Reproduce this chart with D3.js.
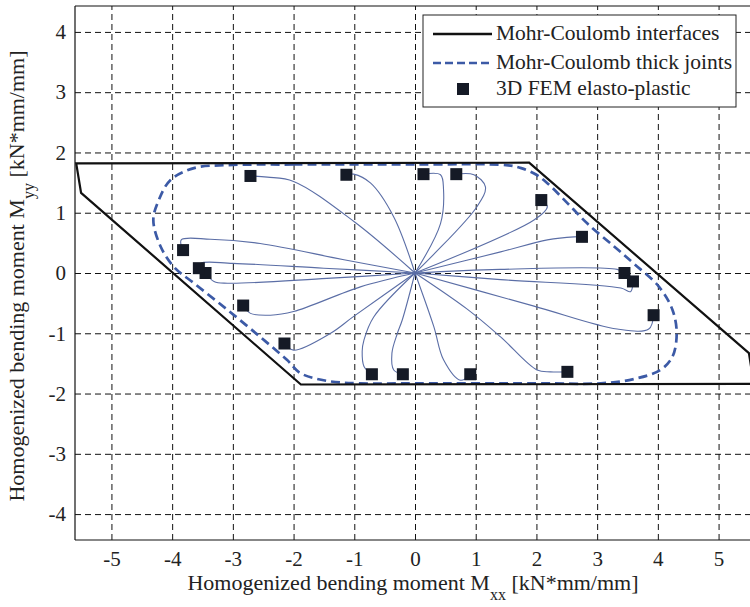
<!DOCTYPE html>
<html>
<head>
<meta charset="utf-8">
<script src="https://cdn.jsdelivr.net/npm/d3@7"></script>
<style>
  html, body { margin: 0; padding: 0; background: #fff; }
  svg { display: block; }
</style>
</head>
<body>
<svg id="chart" width="750" height="607" font-family="'Liberation Serif', 'DejaVu Serif', serif"></svg>
<script>
// Axis ticks
const xTicks = [-5, -4, -3, -2, -1, 0, 1, 2, 3, 4, 5];
const yTicks = [-4, -3, -2, -1, 0, 1, 2, 3, 4];

// Mohr-Coulomb interfaces: closed failure polygon (Mxx, Myy)
const interfaceX = [-5.58, 1.88, 5.50, 5.58, -1.88, -5.50];
const interfaceY = [ 1.82, 1.83, -1.33, -1.84, -1.85, 1.33];

// Mohr-Coulomb thick joints: closed rounded failure surface
const jointX = [-3.10, -2.00, 0.00, 1.50, 1.75, 2.00, 2.18, 2.51, 2.84, 3.28, 3.60, 4.02, 4.24, 4.31, 4.24, 4.04, 3.60, 3.06, 2.00, 0.00, -0.90, -1.45, -1.89, -2.11, -2.55, -3.09, -3.64, -3.97, -4.19, -4.31, -4.22, -4.03, -3.64];
const jointY = [ 1.79,  1.80, 1.80, 1.79, 1.74, 1.63, 1.49, 1.16, 0.82, 0.44, 0.16, -0.23, -0.61, -1.00, -1.39, -1.61, -1.76, -1.83, -1.83, -1.83, -1.83, -1.79, -1.66, -1.44, -1.06, -0.61, -0.17, 0.10, 0.44, 0.88, 1.21, 1.54, 1.74];

// 3D FEM elasto-plastic: collapse points
const femX = [-2.71, -1.13, 0.14, 0.68, 2.08, 2.75, 3.45, 3.59, 3.93, 2.51, 0.91, -0.20, -0.71, -2.15, -2.83, -3.45, -3.56, -3.82];
const femY = [ 1.61,  1.63, 1.64, 1.64, 1.21, 0.60, 0.00, -0.14, -0.70, -1.64, -1.68, -1.68, -1.68, -1.17, -0.54, 0.00, 0.08, 0.38];

// FEM load paths from the origin to each collapse point
const loadPaths = [
  [[0,0],[-1.0,0.85],[-2.0,1.52],[-2.43,1.59],[-2.71,1.61]],
  [[0,0],[-0.35,0.93],[-0.73,1.49],[-1.01,1.64],[-1.13,1.63]],
  [[0,0],[0.42,0.82],[0.47,1.38],[0.42,1.63],[0.14,1.64]],
  [[0,0],[1.02,1.10],[1.16,1.43],[0.97,1.63],[0.68,1.64]],
  [[0,0],[1.96,0.88],[2.18,1.10],[2.08,1.21]],
  [[0,0],[1.41,0.35],[2.18,0.55],[2.62,0.60],[2.75,0.60]],
  [[0,0],[1.40,0.06],[3.33,0.06],[3.45,0.00]],
  [[0,0],[1.41,-0.11],[3.39,-0.25],[3.55,-0.31],[3.59,-0.14]],
  [[0,0],[1.96,-0.55],[3.33,-0.93],[3.85,-0.93],[3.93,-0.70]],
  [[0,0],[0.86,-0.60],[1.41,-1.06],[2.01,-1.61],[2.23,-1.64],[2.51,-1.64]],
  [[0,0],[0.31,-0.89],[0.47,-1.44],[0.75,-1.78],[0.91,-1.68]],
  [[0,0],[-0.21,-0.78],[-0.29,-1.00],[-0.38,-1.33],[-0.35,-1.61],[-0.20,-1.68]],
  [[0,0],[-0.68,-0.73],[-0.84,-1.11],[-0.87,-1.30],[-0.84,-1.55],[-0.71,-1.68]],
  [[0,0],[-1.01,-0.72],[-1.39,-1.00],[-2.00,-1.28],[-2.15,-1.17]],
  [[0,0],[-0.90,-0.23],[-2.00,-0.64],[-2.38,-0.70],[-2.71,-0.67],[-2.83,-0.54]],
  [[0,0],[-1.45,-0.09],[-3.09,-0.17],[-3.31,-0.14],[-3.45,0.00]],
  [[0,0],[-1.50,0.08],[-3.00,0.16],[-3.53,0.16],[-3.56,0.08]],
  [[0,0],[-1.17,0.22],[-2.55,0.49],[-3.37,0.56],[-3.85,0.55],[-3.82,0.38]]
];

const legendItems = ["Mohr-Coulomb interfaces", "Mohr-Coulomb thick joints", "3D FEM elasto-plastic"];

const FONT = "'Liberation Serif', 'DejaVu Serif', serif";
const svg = d3.select("#chart");
const pLeft = 75, pRight = 755, pTop = 6, pBottom = 540;

const x = d3.scaleLinear().domain([-5.6, 5.6]).range([pLeft, pRight]);
const y = d3.scaleLinear().domain([-4.43, 4.43]).range([pBottom, pTop]);

svg.append("defs").append("clipPath").attr("id", "plotClip")
  .append("rect").attr("x", pLeft).attr("y", pTop)
  .attr("width", pRight - pLeft).attr("height", pBottom - pTop);

// Dashed grid
const grid = svg.append("g");
grid.append("g")
  .attr("transform", `translate(0,${pBottom})`)
  .call(d3.axisBottom(x).tickValues(xTicks).tickSize(-(pBottom - pTop)).tickFormat(""))
  .call(g => g.select(".domain").remove())
  .call(g => g.selectAll("line").attr("stroke", "#111").attr("stroke-width", 1).attr("stroke-dasharray", "6,4"));
grid.append("g")
  .attr("transform", `translate(${pLeft},0)`)
  .call(d3.axisLeft(y).tickValues(yTicks).tickSize(-(pRight - pLeft)).tickFormat(""))
  .call(g => g.select(".domain").remove())
  .call(g => g.selectAll("line").attr("stroke", "#111").attr("stroke-width", 1).attr("stroke-dasharray", "6,4"));

const plot = svg.append("g").attr("clip-path", "url(#plotClip)");

// Load paths
const pathLine = d3.line().x(d => x(d[0])).y(d => y(d[1])).curve(d3.curveCatmullRom.alpha(0.5));
plot.append("g").selectAll("path").data(loadPaths).join("path")
  .attr("d", pathLine)
  .attr("fill", "none")
  .attr("stroke", "#5b6ea6")
  .attr("stroke-width", 1.1);

// Thick joints surface
const jointPts = jointX.map((v, i) => [v, jointY[i]]);
plot.append("path")
  .attr("d", d3.line().x(d => x(d[0])).y(d => y(d[1])).curve(d3.curveCatmullRomClosed.alpha(0.5))(jointPts))
  .attr("fill", "none")
  .attr("stroke", "#3c5aa6")
  .attr("stroke-width", 2.7)
  .attr("stroke-dasharray", "9,5");

// Interfaces polygon
const interfacePts = interfaceX.map((v, i) => [v, interfaceY[i]]);
plot.append("path")
  .attr("d", d3.line().x(d => x(d[0])).y(d => y(d[1])).curve(d3.curveLinearClosed)(interfacePts))
  .attr("fill", "none")
  .attr("stroke", "#111")
  .attr("stroke-width", 2.2)
  .attr("stroke-linejoin", "miter");

// FEM points
const sq = 12;
plot.append("g").selectAll("rect").data(femX.map((v, i) => [v, femY[i]])).join("rect")
  .attr("x", d => x(d[0]) - sq / 2)
  .attr("y", d => y(d[1]) - sq / 2)
  .attr("width", sq).attr("height", sq)
  .attr("fill", "#151a26");

// Frame
svg.append("line").attr("x1", pLeft).attr("x2", pLeft).attr("y1", pTop).attr("y2", pBottom).attr("stroke", "#111").attr("stroke-width", 1.2);
svg.append("line").attr("x1", pLeft).attr("x2", pRight).attr("y1", pBottom).attr("y2", pBottom).attr("stroke", "#111").attr("stroke-width", 1.2);
svg.append("line").attr("x1", pLeft).attr("x2", pRight).attr("y1", pTop).attr("y2", pTop).attr("stroke", "#111").attr("stroke-width", 1.2);

// Tick labels (plain hyphen for negatives)
const fs = 22, tickFs = 21, legendFs = 21.5;
const fmt = d => String(d);
svg.append("g")
  .attr("transform", `translate(0,${pBottom})`)
  .call(d3.axisBottom(x).tickValues(xTicks).tickSize(0).tickPadding(11).tickFormat(fmt))
  .attr("font-family", FONT).attr("font-size", tickFs)
  .call(g => g.select(".domain").remove())
  .call(g => g.selectAll("text").attr("fill", "#222"));
svg.append("g")
  .attr("transform", `translate(${pLeft},0)`)
  .call(d3.axisLeft(y).tickValues(yTicks).tickSize(0).tickPadding(9).tickFormat(fmt))
  .attr("font-family", FONT).attr("font-size", tickFs)
  .call(g => g.select(".domain").remove())
  .call(g => g.selectAll("text").attr("fill", "#222"));

// Axis titles
const xt = svg.append("text")
  .attr("x", 413).attr("y", 590)
  .attr("text-anchor", "middle")
  .attr("font-family", FONT).attr("font-size", fs).attr("fill", "#222");
xt.append("tspan").text("Homogenized bending moment M");
xt.append("tspan").attr("font-size", 16).attr("dy", 10).text("xx");
xt.append("tspan").attr("dy", -10).text(" [kN*mm/mm]");

const yt = svg.append("text")
  .attr("transform", `translate(24,${(pTop + pBottom) / 2 + 3}) rotate(-90)`)
  .attr("text-anchor", "middle")
  .attr("font-family", FONT).attr("font-size", fs).attr("fill", "#222");
yt.append("tspan").text("Homogenized bending moment M");
yt.append("tspan").attr("font-size", 16).attr("dy", 10).text("yy");
yt.append("tspan").attr("dy", -10).text(" [kN*mm/mm]");

// Legend
const lg = svg.append("g").attr("font-family", FONT);
lg.append("rect").attr("x", 423).attr("y", 15).attr("width", 313).attr("height", 92)
  .attr("fill", "#fff").attr("stroke", "#222").attr("stroke-width", 1);
const rowY = [34, 63, 89];
lg.append("line").attr("x1", 433).attr("x2", 492).attr("y1", rowY[0]).attr("y2", rowY[0])
  .attr("stroke", "#111").attr("stroke-width", 2.4);
lg.append("line").attr("x1", 433).attr("x2", 492).attr("y1", rowY[1]).attr("y2", rowY[1])
  .attr("stroke", "#3c5aa6").attr("stroke-width", 2.6).attr("stroke-dasharray", "8,4");
lg.append("rect").attr("x", 463 - 6).attr("y", rowY[2] - 6).attr("width", 12).attr("height", 12).attr("fill", "#151a26");
lg.selectAll("text.item").data(legendItems).join("text")
  .attr("class", "item")
  .attr("x", 496).attr("y", (d, i) => rowY[i] + 6)
  .attr("font-size", legendFs).attr("fill", "#222")
  .text(d => d);
</script>
</body>
</html>
